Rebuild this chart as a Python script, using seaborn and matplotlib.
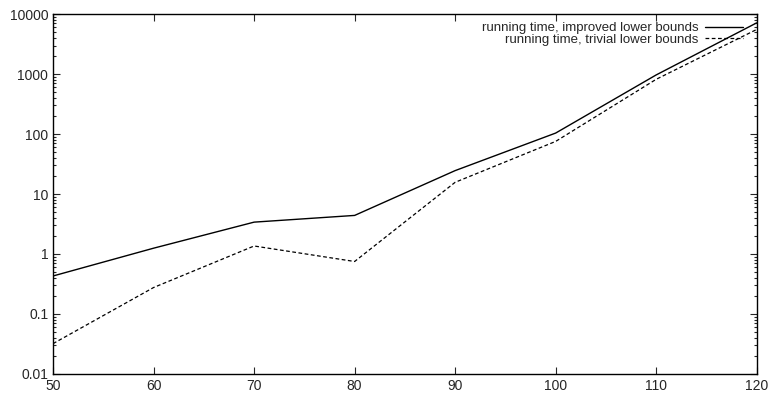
import pandas as pd
import matplotlib
matplotlib.use("Agg")
import matplotlib.pyplot as plt
import matplotlib.ticker as mticker
import seaborn as sns

# data
n_values = [50, 60, 70, 80, 90, 100, 110, 120]
improved = [0.43, 1.25, 3.4, 4.4, 24.6, 104, 970, 7170]
trivial = [0.032, 0.276, 1.36, 0.75, 15.7, 75.5, 820, 5560]
label_improved = "running time, improved lower bounds"
label_trivial = "running time, trivial lower bounds"

sns.set_style("ticks")
plt.rcParams['font.family'] = ['Liberation Sans', 'DejaVu Sans']

df = pd.DataFrame({"n": n_values, "improved": improved, "trivial": trivial})

fig = plt.figure(figsize=(7.69, 3.94), dpi=100)
ax = fig.add_axes([0.069, 0.051, 0.915, 0.913])

sns.lineplot(x="n", y="improved", data=df, ax=ax, color="black",
             linewidth=1.0, label=label_improved)
sns.lineplot(x="n", y="trivial", data=df, ax=ax, color="black",
             linewidth=0.9, linestyle=(0, (3, 2)), label=label_trivial)

ax.set_yscale("log")
ax.set_xlim(50, 120)
ax.set_ylim(0.01, 10000)
ax.set_xticks(range(50, 121, 10))
ax.set_yticks([0.01, 0.1, 1, 10, 100, 1000, 10000])
ax.set_yticklabels(["0.01", "0.1", "1", "10", "100", "1000", "10000"])
ax.yaxis.set_minor_locator(mticker.LogLocator(base=10, subs=range(2, 10), numticks=20))
ax.yaxis.set_minor_formatter(mticker.NullFormatter())
ax.set_xlabel("")
ax.set_ylabel("")

ax.tick_params(which="both", direction="in", top=True, right=True, labelsize=10, width=0.8)
ax.tick_params(which="major", length=5)
ax.tick_params(which="minor", length=2.5)
ax.tick_params(axis="x", pad=4)
for s in ax.spines.values():
    s.set_linewidth(1.0)
    s.set_color("black")

ax.legend(loc="upper right", frameon=False, markerfirst=False, fontsize=9.5,
          handlelength=2.9, handletextpad=0.5, labelspacing=-0.04,
          borderaxespad=0.2, bbox_to_anchor=(0.992, 1.0))

fig.savefig("out.png", dpi=100)
